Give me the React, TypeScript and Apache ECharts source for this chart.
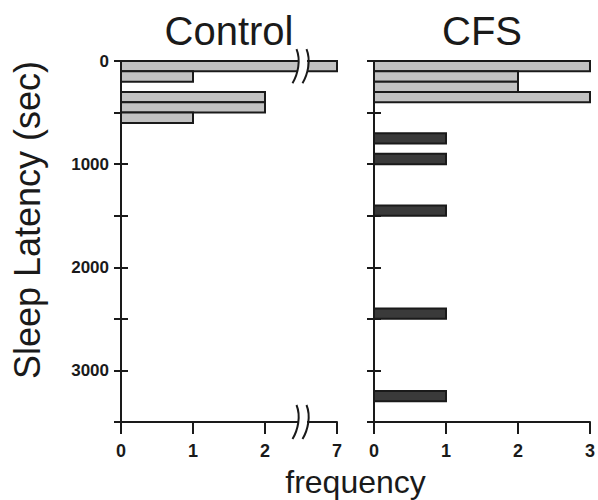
import React, { useEffect, useRef } from "react";
import * as echarts from "echarts";

// Sleep latency bins (sec) and frequencies
const binWidth = 100;
const controlBinStart = [0, 100, 300, 400, 500];
const controlFreq = [7, 1, 2, 2, 1];
const cfsLightBinStart = [0, 100, 200, 300];
const cfsLightFreq = [3, 2, 2, 3];
const cfsDarkBinStart = [700, 900, 1400, 2400, 3200];
const cfsDarkFreq = [1, 1, 1, 1, 1];

const yMin = 0;
const yMax = 3500;
const yInterval = 500;
const yTickLabels = [0, 1000, 2000, 3000];
const controlXLabels = ["0", "1", "2", "7"];
const cfsXLabels = ["0", "1", "2", "3"];

// Control frequency axis is broken between 2 and 7: value 7 sits at position 3
const breakAt = 2.5;
const breakValue = 7;
const breakPos = 3;
const mapControl = (v: number) => (v >= breakValue ? breakPos : v);

const FONT = "'Liberation Sans', Arial, Helvetica, sans-serif";
const INK = "#1a1a1a";
const LIGHT = "#c2c2c2";
const DARK = "#3a3a3a";

const makeRender = (fill: string, mapX: (v: number) => number) => (params: any, api: any) => {
  const start = api.value(0);
  const end = api.value(1);
  const f = mapX(api.value(2));
  const p0 = api.coord([0, start]);
  const p1 = api.coord([f, end]);
  return {
    type: "rect",
    shape: { x: p0[0], y: p0[1], width: p1[0] - p0[0], height: p1[1] - p0[1] },
    style: { fill, stroke: INK, lineWidth: 2 },
  };
};

const toData = (starts: number[], freqs: number[]) =>
  starts.map((s, i) => [s, s + binWidth, freqs[i]]);

export default function App() {
  const ref = useRef<HTMLDivElement>(null);
  useEffect(() => {
    const chart = echarts.init(ref.current!, null, { renderer: "svg" });
    const yAxisBase = (gridIndex: number, showLabels: boolean, inside: boolean) => ({
      type: "value",
      gridIndex,
      position: "left",
      inverse: true,
      min: yMin,
      max: yMax,
      interval: yInterval,
      axisLine: { show: !inside, onZero: false, lineStyle: { color: INK, width: 2 } },
      axisTick: { show: true, inside, length: 7, lineStyle: { color: INK, width: 2 } },
      splitLine: { show: false },
      axisLabel: {
        show: showLabels && !inside,
        margin: 12,
        fontFamily: FONT,
        fontWeight: "bold",
        fontSize: 17,
        color: INK,
        formatter: (v: number) => (yTickLabels.includes(v) ? String(v) : ""),
      },
    });
    const xAxisBase = (gridIndex: number, labels: string[]) => ({
      type: "value",
      gridIndex,
      position: "bottom",
      min: 0,
      max: 3,
      interval: 1,
      axisLine: { show: true, onZero: false, lineStyle: { color: INK, width: 2 } },
      axisTick: { show: true, length: 12, lineStyle: { color: INK, width: 2 } },
      splitLine: { show: false },
      axisLabel: {
        margin: 20,
        fontFamily: FONT,
        fontWeight: "bold",
        fontSize: 18,
        color: INK,
        formatter: (v: number) => labels[v],
      },
    });
    const option: any = {
      animation: false,
      backgroundColor: "#ffffff",
      grid: [
        { left: 121, top: 61, width: 216, height: 361 },
        { left: 374, top: 61, width: 217, height: 361 },
      ],
      xAxis: [xAxisBase(0, controlXLabels), xAxisBase(1, cfsXLabels)],
      yAxis: [
        yAxisBase(0, true, false),
        yAxisBase(0, false, true),
        yAxisBase(1, false, false),
        yAxisBase(1, false, true),
      ],
      series: [
        {
          type: "custom",
          name: "Control",
          xAxisIndex: 0,
          yAxisIndex: 0,
          renderItem: makeRender(LIGHT, mapControl),
          encode: { x: 2, y: [0, 1] },
          data: toData(controlBinStart, controlFreq),
        },
        {
          type: "custom",
          name: "CFS",
          xAxisIndex: 1,
          yAxisIndex: 2,
          renderItem: makeRender(LIGHT, (v) => v),
          encode: { x: 2, y: [0, 1] },
          data: toData(cfsLightBinStart, cfsLightFreq),
        },
        {
          type: "custom",
          name: "CFS (long latency)",
          xAxisIndex: 1,
          yAxisIndex: 2,
          renderItem: makeRender(DARK, (v) => v),
          encode: { x: 2, y: [0, 1] },
          data: toData(cfsDarkBinStart, cfsDarkFreq),
        },
      ],
    };
    chart.setOption(option);

    const px = (xi: number, yi: number, v: number[]) =>
      chart.convertToPixel({ xAxisIndex: xi, yAxisIndex: yi } as any, v) as number[];
    const pTop = px(0, 0, [breakAt, controlBinStart[0] + binWidth / 2]);
    const pBot = px(0, 0, [breakAt, yMax]);
    const c0 = px(0, 0, [0, 0]);
    const c1 = px(0, 0, [3, yMax]);
    const d0 = px(1, 2, [0, 0]);
    const d1 = px(1, 2, [3, yMax]);

    const breakMark = (bx: number, cy: number) => {
      const els: any[] = [
        {
          type: "rect",
          shape: { x: bx - 2, y: cy - 7, width: 9, height: 14 },
          style: { fill: "#ffffff" },
          z: 100,
        },
      ];
      [-5, 5].forEach((dx) => {
        els.push({
          type: "bezierCurve",
          shape: {
            x1: bx + dx + 1.5,
            y1: cy - 17,
            cpx1: bx + dx + 6,
            cpy1: cy - 6,
            cpx2: bx + dx + 3,
            cpy2: cy + 8,
            x2: bx + dx - 2.5,
            y2: cy + 17,
          },
          style: { stroke: INK, lineWidth: 2, fill: "none" },
          z: 101,
        });
      });
      return els;
    };

    chart.setOption({
      graphic: [
        ...breakMark(pTop[0] - 1, pTop[1]),
        ...breakMark(pBot[0] - 1, pBot[1]),
        {
          type: "text",
          x: (c0[0] + c1[0]) / 2,
          y: 31,
          style: {
            text: "Control",
            font: `40px ${FONT}`,
            fill: INK,
            textAlign: "center",
            textVerticalAlign: "middle",
          },
        },
        {
          type: "text",
          x: (d0[0] + d1[0]) / 2,
          y: 31,
          style: {
            text: "CFS",
            font: `40px ${FONT}`,
            fill: INK,
            textAlign: "center",
            textVerticalAlign: "middle",
          },
        },
        {
          type: "text",
          x: (c1[0] + d0[0]) / 2,
          y: 482,
          style: {
            text: "frequency",
            font: `32px ${FONT}`,
            fill: INK,
            textAlign: "center",
            textVerticalAlign: "middle",
          },
        },
        {
          type: "text",
          x: 27,
          y: 220,
          rotation: Math.PI / 2,
          style: {
            text: "Sleep Latency (sec)",
            font: `36px ${FONT}`,
            fill: INK,
            textAlign: "center",
            textVerticalAlign: "middle",
          },
        },
      ],
    });
    return () => chart.dispose();
  }, []);
  return (
    <div
      ref={ref}
      style={{ position: "fixed", left: 0, top: 0, width: 598, height: 500, background: "#fff" }}
    />
  );
}
